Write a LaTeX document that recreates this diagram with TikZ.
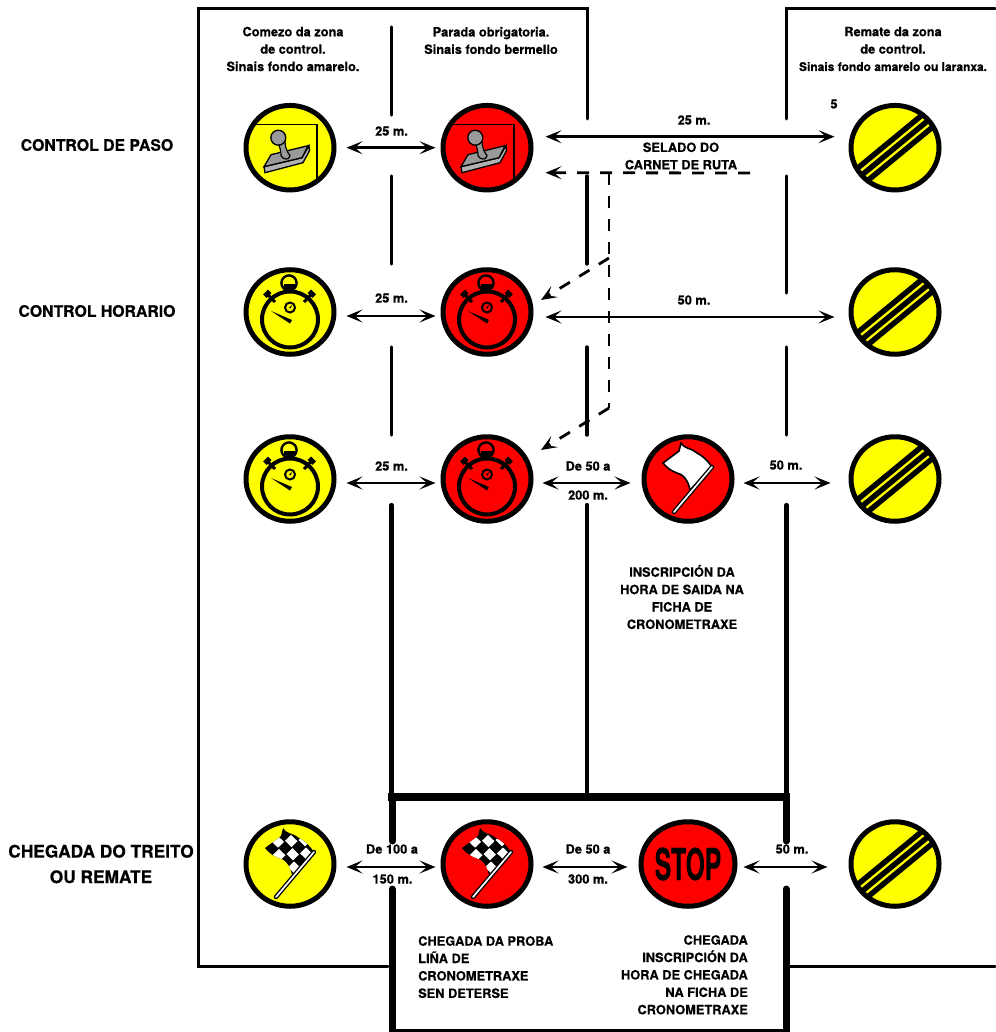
\documentclass[tikz,border=0pt]{standalone}
\usepackage{fontspec}
\usepackage{graphicx}
\setmainfont[BoldFeatures={FakeBold=0.4}]{TeX Gyre Heros}
\usetikzlibrary{arrows.meta,shapes.geometric,calc}
\newcommand{\IconStamp}{%
  \begin{scope}[shift={(path picture bounding box.center)}]
    \draw[black,line width=1.5] (-50,-23) -- (27,-23) -- (27,50);
    \filldraw[fill=black!30!white,draw=black,line width=1.3] (-26,19) -- (12,10) -- (19,-2) -- (19.5,3) -- (13,15) -- (-25,25) -- cycle;
    \filldraw[fill=black!40!white,draw=black,line width=1.3] (-19,7) -- (18,-2) -- (12,10) -- (-26,19) -- cycle;
    \filldraw[fill=black!40!white,draw=black,line width=1.2] (-12,-6) .. controls (-10,0) and (-9,4) .. (-9,8) .. controls (-7,12) and (-1,13) .. (0,8) .. controls (-3,4) and (-5,-1) .. (-5,-6) -- cycle;
    \filldraw[fill=black!40!white,draw=black,line width=1.3] (-11.7,-10) circle (7.5);
  \end{scope}}
\newcommand{\IconWatch}{%
  \begin{scope}[shift={(path picture bounding box.center)}]
    \draw[black,line width=2.4] (-1,-29) circle (7.6);
    \fill[black] (-6.5,-28) rectangle (4.5,-24.5);
    \draw[black,line width=6] (-1,-26) -- (-1,-19);
    \draw[black,line width=3] (-23,-18.5) -- (-15,-10);
    \draw[black,line width=3] (22,-18.5) -- (14,-10);
    \draw[black,line width=7] (-24.5,-20) -- (-21,-16.5);
    \draw[black,line width=7] (23.5,-20) -- (20,-16.5);
    \draw[black,line width=4] (0,7.5) circle (28);
    \draw[black,line width=2] (0,-4.5) circle (5);
    \fill[black] (-0.8,-4.5) -- (2,-7) -- (0.8,-3.5) -- cycle;
    \fill[black] (-19,-1) -- (2,8) -- (0,11.5) -- cycle;
  \end{scope}}
\newcommand{\FlagPath}{(-7,-36) .. controls (-4,-30) and (4,-31) .. (9,-26) .. controls (15,-23) and (20,-18) .. (24,-12) -- (2,11) .. controls (0,0) and (-6,-5) .. (-11,-6) .. controls (-17,-8) and (-22,-12) .. (-25,-16) -- (-9,-28) -- cycle}
\newcommand{\IconPole}{%
    \draw[black,line width=4.4,line cap=round] (-14,33) -- (24,-12);
    \draw[line width=1.7,white,line cap=round] (-14,33) -- (24,-12);}
\newcommand{\IconWhiteFlag}{%
  \begin{scope}[shift={(path picture bounding box.center)}]
    \filldraw[fill=white,draw=black,line width=1.6] \FlagPath;
    \IconPole
  \end{scope}}
\newcommand{\IconCheck}{%
  \begin{scope}[shift={(path picture bounding box.center)}]
    \fill[black] \FlagPath;
    \begin{scope}
      \clip \FlagPath;
      \foreach \i in {-1,...,5}{\foreach \j in {-1,...,5}{%
        \pgfmathtruncatemacro{\cellodd}{mod(\i+\j+10,2)}%
        \ifnum\cellodd=1
          \fill[white] ({-7+\i*7.5-\j*6+0.5},{-36+\i*6.3+\j*7+0.6}) -- ({-7+(\i+1)*7.5-\j*6-0.5},{-36+(\i+1)*6.3+\j*7+0.6}) -- ({-7+(\i+1)*7.5-(\j+1)*6-0.5},{-36+(\i+1)*6.3+(\j+1)*7-0.6}) -- ({-7+\i*7.5-(\j+1)*6+0.5},{-36+\i*6.3+(\j+1)*7-0.6}) -- cycle;
        \fi}}
    \end{scope}
    \IconPole
  \end{scope}}
\newcommand{\IconEnd}{%
  \begin{scope}[shift={(path picture bounding box.center)}]
    \foreach \off in {-8,0,8}{\draw[black,line width=5.4] ({0.636*\off-54},{0.772*\off+44.5}) -- ({0.636*\off+54},{0.772*\off-44.5});}
  \end{scope}}
\tikzset{
  x=1pt,y=-1pt,
  sign/.style 2 args={ellipse,draw=black,line width=5,minimum width=88,minimum height=84.5,inner sep=0,fill=#1,path picture={#2}},
  zoneline/.style={line width=3,line cap=round},
  lightpost/.style={line width=3.4,line cap=round},
  heavyline/.style={line width=4.2,line cap=round},
  barline/.style={line width=8},
  postline/.style={line width=7,line cap=round},
  dbl/.style={{Stealth[length=16,width=13,inset=7.5]}-{Stealth[length=16,width=13,inset=7.5]},line width=2.8},
  dashline/.style={line width=2.8,dash pattern=on 12 off 11},
  dasharrow/.style={dashline,-{Stealth[length=16,width=13,inset=7.5]}},
  lbl/.style={font=\fontsize{12.8}{17.4}\selectfont\bfseries,inner sep=0,align=center},
  lblL/.style={lbl,align=left,anchor=north west},
  lblR/.style={lbl,align=right,anchor=north east},
  rowlbl/.style={font=\fontsize{15.8}{25.5}\selectfont\bfseries,inner sep=0,align=center},
}
\definecolor{signyellow}{RGB}{255,255,0}
\definecolor{signred}{RGB}{255,0,0}
\begin{document}
\begin{tikzpicture}
\useasboundingbox (0,0) rectangle (995,1032);
% zone frame
\draw[zoneline] (388,966) -- (198,966) -- (198,9) -- (587,9) -- (587,119);
\draw[zoneline] (786.5,119) -- (786.5,9) -- (995,9);
\draw[zoneline] (790,966) -- (995,966);
\draw[zoneline] (392,1030.5) -- (786,1030.5);
% posts
\foreach \a/\b in {27/115,176/264,347/435}{\draw[lightpost] (391.5,\a) -- (391.5,\b);}
\foreach \a/\b in {176/264,347/435}{\draw[lightpost] (587,\a) -- (587,\b);}
\foreach \a/\b in {176/293,347/435}{\draw[lightpost] (786.5,\a) -- (786.5,\b);}
\foreach \x in {391.5,587,786.5}{\draw[heavyline] (\x,505) -- (\x,797);}
\draw[barline] (388,797) -- (790,797);
\draw[postline] (392,797) -- (392,841);
\draw[postline] (786,797) -- (786,841);
\draw[postline] (392,889) -- (392,1032);
\draw[postline] (786,889) -- (786,1032);
% signs
\node[sign={signyellow}{\IconStamp}] (y1) at (290,147.7) {};
\node[sign={signred}{\IconStamp}] (r1) at (487,147.7) {};
\node[sign={signyellow}{\IconEnd}] (e1) at (895,147.7) {};
\node[sign={signyellow}{\IconWatch}] (y2) at (290,312) {};
\node[sign={signred}{\IconWatch}] (r2) at (487,312) {};
\node[sign={signyellow}{\IconEnd}] (e2) at (895,312) {};
\node[sign={signyellow}{\IconWatch}] (y3) at (290,479) {};
\node[sign={signred}{\IconWatch}] (r3) at (487,479) {};
\node[sign={signred}{\IconWhiteFlag}] (f3) at (688,479) {};
\node[sign={signyellow}{\IconEnd}] (e3) at (895,479) {};
\node[sign={signyellow}{\IconCheck}] (y4) at (290,864) {};
\node[sign={signred}{\IconCheck}] (r4) at (487,864) {};
\node[sign={signred}{}] (s4) at (688,864) {\scalebox{0.56}[1]{\fontsize{44}{44}\selectfont\bfseries STOP}};
\node[sign={signyellow}{\IconEnd}] (e4) at (895,864) {};
% connectors
\draw[dbl,shorten <=10,shorten >=5] (y1.east) -- (r1.west);
\draw[dbl,shorten <=10,shorten >=5] ([yshift=-4pt]y2.east) -- ([yshift=-4pt]r2.west);
\draw[dbl,shorten <=10,shorten >=5] ([yshift=-4pt]y3.east) -- ([yshift=-4pt]r3.west);
\draw[dbl,shorten <=10,shorten >=5] ([yshift=-3pt]y4.east) -- ([yshift=-3pt]r4.west);
\draw[dbl,shorten <=12,shorten >=14] ([yshift=11pt]r1.east) -- ([yshift=11pt]e1.west);
\draw[dbl,shorten <=12,shorten >=14] ([yshift=-5pt]r2.east) -- ([yshift=-5pt]e2.west);
\draw[dbl,shorten <=9,shorten >=11] ([yshift=-4pt]r3.east) -- ([yshift=-4pt]f3.west);
\draw[dbl,shorten <=9,shorten >=11] ([yshift=-3pt]r4.east) -- ([yshift=-3pt]s4.west);
\draw[dbl,shorten <=9,shorten >=18] ([yshift=-4pt]f3.east) -- ([yshift=-4pt]e3.west);
\draw[dbl,shorten <=6,shorten >=21] ([yshift=-3pt]s4.east) -- ([yshift=-3pt]e4.west);
% dashed paths
\coordinate (dstart) at (750,173);
\coordinate (dk0) at (609,173);
\coordinate (dk1) at (609,258);
\coordinate (dk2) at (609,408);
\coordinate (t2) at ($(r2.center)+(54,-12)$);
\coordinate (t3) at ($(r3.center)+(54,-29)$);
\draw[dasharrow,shorten >=12] (dstart) -- ([yshift=-25pt]r1.east);
\draw[dashline] (dk0) -- (dk2);
\draw[dasharrow] (dk1) -- (t2);
\draw[dasharrow] (dk2) -- (t3);
% labels
\node[lbl] (h1) at (293,49) {Comezo da zona\\de control.\\Sinais fondo amarelo.};
\node[lbl] (h2) at (491,40.5) {Parada obrigatoria.\\Sinais fondo bermello};
\node[lbl,font=\fontsize{12}{17.4}\selectfont\bfseries] (h3) at (893,49) {\fontsize{12.8}{17.4}\selectfont Remate da zona\\\fontsize{12.8}{17.4}\selectfont de control.\\Sinais fondo amarelo ou laranxa.};
\node[lbl] (five) at (834,104) {5};
\node[lbl] (l1) at (391.5,131) {25 m.};
\node[lbl] (l2) at (391.5,298) {25 m.};
\node[lbl] (l3) at (391.5,466) {25 m.};
\node[lbl] (l4) at (694,120) {25 m.};
\node[lbl] (l5) at (681,156) {SELADO DO\\CARNET DE RUTA};
\node[lbl] (l6) at (694,300) {50 m.};
\node[lbl] (l7) at (588,466) {De 50 a};
\node[lbl] (l8) at (588,495) {200 m.};
\node[lbl] (l9) at (786,465) {50 m.};
\node[lbl] (l10) at (682,597) {INSCRIPCIÓN DA\\HORA DE SAIDA NA\\FICHA DE\\CRONOMETRAXE};
\node[lbl] (l11) at (392,849) {De 100 a};
\node[lbl] (l12) at (392.5,879) {150 m.};
\node[lbl] (l13) at (588,849) {De 50 a};
\node[lbl] (l14) at (588,879) {300 m.};
\node[lbl] (l15) at (792,849) {50 m.};
\node[lblL] (l16) at (418,936) {CHEGADA DA PROBA\\LIÑA DE\\CRONOMETRAXE\\SEN DETERSE};
\node[lblR] (l17) at (748,935) {CHEGADA\\INSCRIPCIÓN DA\\HORA DE CHEGADA\\NA FICHA DE\\CRONOMETRAXE};
\node[rowlbl] (c1) at (97,145) {CONTROL DE PASO};
\node[rowlbl] (c2) at (97,311) {CONTROL HORARIO};
\node[rowlbl,font=\fontsize{17.3}{25.5}\selectfont\bfseries] (c3) at (101,864) {CHEGADA DO TREITO\\OU REMATE};
\end{tikzpicture}
\end{document}
